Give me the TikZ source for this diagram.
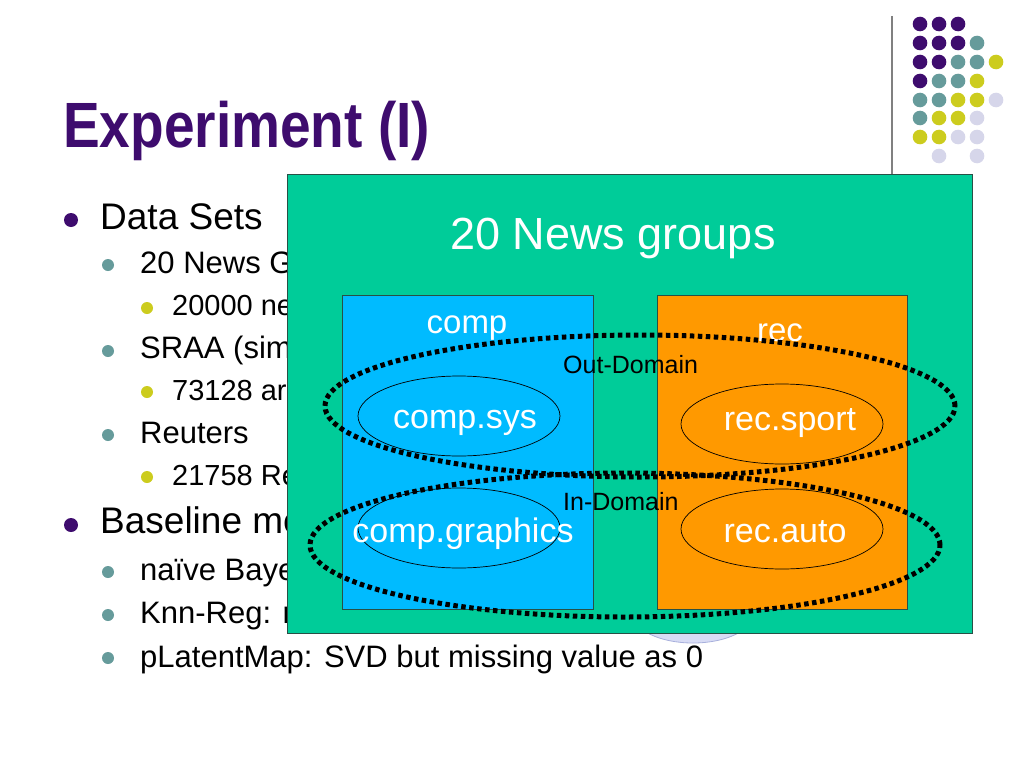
\documentclass[tikz,border=0pt]{standalone}
\usepackage{fontspec}
\setmainfont{Liberation Sans}
\usetikzlibrary{shapes.geometric}
\definecolor{dpurple}{RGB}{62,12,110}
\definecolor{dteal}{RGB}{102,155,155}
\definecolor{dyellow}{RGB}{204,204,30}
\definecolor{dlav}{RGB}{214,214,234}
\definecolor{boxgreen}{RGB}{0,204,153}
\definecolor{boxblue}{RGB}{0,187,255}
\definecolor{boxorange}{RGB}{255,153,0}
\definecolor{boxedge}{RGB}{40,80,70}
\definecolor{lavfill}{RGB}{216,220,245}
\definecolor{lavedge}{RGB}{168,176,220}
\begin{document}
\begin{tikzpicture}[x=1pt,y=-1pt,
  lvlone/.style={anchor=base west, inner sep=0pt, font=\fontsize{37}{44}\selectfont},
  lvltwo/.style={anchor=base west, inner sep=0pt, font=\fontsize{31}{37}\selectfont},
  lvlthree/.style={anchor=base west, inner sep=0pt, font=\fontsize{29}{35}\selectfont},
  catbox/.style={draw=boxedge, line width=1pt, inner sep=0pt},
  subell/.style={ellipse, draw=black, line width=0.7pt, inner sep=0pt, minimum width=202pt, minimum height=80pt},
  whitetxt/.style={anchor=base, inner sep=0pt, text=white, font=\fontsize{34}{40}\selectfont},
  domring/.style={draw=black, line width=5pt, dash pattern=on 4.5pt off 3.5pt},
  domlabel/.style={anchor=base west, inner sep=0pt, font=\fontsize{25}{30}\selectfont}
]
\useasboundingbox (0,0) rectangle (1024,768);
\fill[white] (0,0) rectangle (1024,768);

% decoration: vertical rule and dots
\draw[gray, line width=1.2pt] (892,16) -- (892,175);
\foreach \c [count=\i] in {dpurple,dpurple,dpurple} \fill[\c] ({901+19*\i},24) circle[radius=7.3pt];
\foreach \c [count=\i] in {dpurple,dpurple,dpurple,dteal} \fill[\c] ({901+19*\i},43) circle[radius=7.3pt];
\foreach \c [count=\i] in {dpurple,dpurple,dteal,dteal,dyellow} \fill[\c] ({901+19*\i},62) circle[radius=7.3pt];
\foreach \c [count=\i] in {dpurple,dteal,dteal,dyellow} \fill[\c] ({901+19*\i},81) circle[radius=7.3pt];
\foreach \c [count=\i] in {dteal,dteal,dyellow,dyellow,dlav} \fill[\c] ({901+19*\i},100) circle[radius=7.3pt];
\foreach \c [count=\i] in {dteal,dyellow,dyellow,dlav} \fill[\c] ({901+19*\i},118) circle[radius=7.3pt];
\foreach \c [count=\i] in {dyellow,dyellow,dlav,dlav} \fill[\c] ({901+19*\i},137) circle[radius=7.3pt];
\fill[dlav] (939,156) circle[radius=7.3pt];
\fill[dlav] (977,156) circle[radius=7.3pt];

% title
\node (title) [anchor=base west, inner sep=0pt, text=dpurple, font=\fontsize{64}{76}\selectfont\bfseries] at (63,147) {\scalebox{0.86}[1]{Experiment (I)}};

% bullets
\fill[dpurple] (71,220) circle[radius=7pt];
\node (b1) [lvlone] at (100,229) {Data Sets};
\fill[dteal] (108,265) circle[radius=6pt];
\node (b2) [lvltwo] at (140,273) {20 News G};
\fill[dyellow] (147,308) circle[radius=6pt];
\node (b3) [lvlthree] at (172,315) {20000 ne};
\fill[dteal] (108,351) circle[radius=6pt];
\node (b4) [lvltwo] at (140,358) {SRAA (sim};
\fill[dyellow] (147,392) circle[radius=6pt];
\node (b5) [lvlthree] at (172,400) {73128 ar};
\fill[dteal] (108,435) circle[radius=6pt];
\node (b6) [lvltwo] at (140,443) {Reuters};
\fill[dyellow] (147,477) circle[radius=6pt];
\node (b7) [lvlthree] at (172,485) {21758 Re};
\fill[dpurple] (71,525) circle[radius=7pt];
\node (b8) [lvlone] at (100,533) {Baseline me};
\fill[dteal] (108,572) circle[radius=6pt];
\node (b9) [lvltwo] at (140,580) {naïve Bayes};
\fill[dteal] (108,615) circle[radius=6pt];
\node (b10) [lvltwo] at (140,623) {Knn-Reg: r};
\fill[dteal] (108,658) circle[radius=6pt];
\node (b11) [lvltwo] at (140,667) {pLatentMap: SVD but missing value as 0};

% partly hidden ellipse behind the box
\node (hid) [ellipse, fill=lavfill, draw=lavedge, line width=0.8pt, minimum width=120pt, minimum height=58pt, inner sep=0pt] at (693,614) {};

% main green box
\node (green) [catbox, fill=boxgreen, minimum width=685pt, minimum height=459pt] at (629.5,404) {};
\node (gtitle) [anchor=base, inner sep=0pt, text=white, font=\fontsize{45}{54}\selectfont] at (613,249) {20 News groups};

% category boxes
\node (comp) [catbox, fill=boxblue, minimum width=251pt, minimum height=314pt] at (467.5,452) {};
\node (rec) [catbox, fill=boxorange, minimum width=250pt, minimum height=314pt] at (782,452) {};
\node (compl) [anchor=base, inner sep=0pt, text=white, font=\fontsize{33}{40}\selectfont] at (467,333) {comp};
\node (recl) [anchor=base, inner sep=0pt, text=white, font=\fontsize{33}{40}\selectfont] at (780,341) {rec};

% sub-groups
\node (csys) [subell, fill=boxblue] at (459,416) {};
\node (cgra) [subell, fill=boxblue] at (459,528) {};
\node (rspo) [subell, fill=boxorange] at (782,424) {};
\node (raut) [subell, fill=boxorange] at (782,529) {};
\node (csyst) [whitetxt] at (465,428) {comp.sys};
\node (cgrat) [whitetxt] at (463,542) {comp.graphics};
\node (rspot) [whitetxt] at (790,430) {rec.sport};
\node (rautt) [whitetxt] at (785,542) {rec.auto};

% domains
\draw[domring] (640,406) ellipse [x radius=315pt, y radius=71pt];
\draw[domring] (625,545) ellipse [x radius=315pt, y radius=72pt];
\node (outd) [domlabel] at (563,373) {Out-Domain};
\node (ind) [domlabel] at (563,510) {In-Domain};
\end{tikzpicture}
\end{document}
